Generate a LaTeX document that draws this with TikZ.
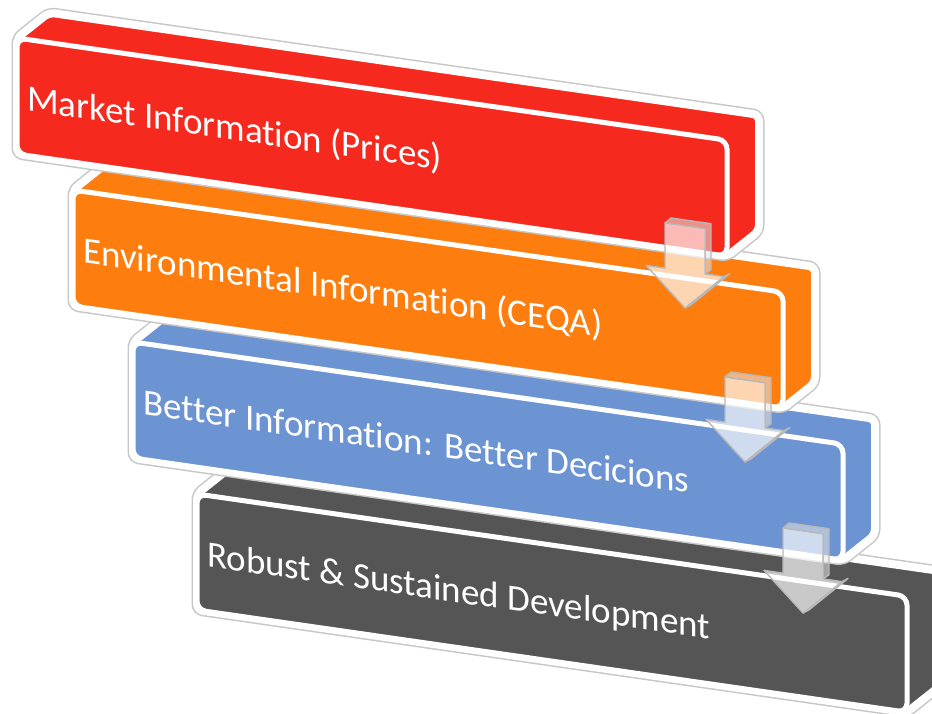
\documentclass[tikz,border=0pt]{standalone}
\usepackage{fontspec}
\setmainfont{Carlito}[Ligatures=NoCommon]
\usepackage{tikz}
\usetikzlibrary{calc}
\definecolor{slabred}{RGB}{246,41,31}
\definecolor{slaborange}{RGB}{253,125,15}
\definecolor{slabblue}{RGB}{108,148,210}
\definecolor{slabgray}{RGB}{85,85,85}
\tikzset{
	slabtext/.style={anchor=base west, text=white, inner sep=0pt, transform shape, font=\fontsize{37}{44}\selectfont},
	arrowline/.style={draw=black!28, line width=1.4pt, line join=round},
	arrowfill/.style={fill=white, fill opacity=0.68}
}
% slab: colour, front bottom left corner, node name, text
\def\slab[#1](#2,#3)(#4:#5){
	\begin{scope}[shift={(#2,#3)}, yslant=-0.144]
		\draw[line width=11pt, color=black!22, rounded corners=6pt] (0,0) -- (710,0) -- (742,30) -- (742,146) -- (32,146) -- (0,116) -- cycle;
		\draw[line width=8pt, color=white, fill=#1, rounded corners=6pt] (0,0) -- (710,0) -- (742,30) -- (742,146) -- (32,146) -- (0,116) -- cycle;
		\draw[line width=5pt, color=white, fill=#1, rounded corners=9pt] (0,0) rectangle (710,116);
		\node[slabtext] (#4) at (10,45) {#5};
	\end{scope}
}
% block arrow, tip at (#1,#2)
\def\blockarrow(#1,#2){
	\begin{scope}[shift={(#1,#2)}, yslant=-0.144]
		\draw[arrowline, fill=black!10, fill opacity=0.55] (-20,82) -- (-14,88) -- (26,88) -- (26,42) -- (20,37) -- (20,82) -- cycle;
		\draw[arrowline, fill=black!10, fill opacity=0.4] (0,0) -- (39,37) -- (45,41) -- (6,4) -- cycle;
		\draw[arrowline, arrowfill] (0,0) -- (-39,37) -- (-20,37) -- (-20,82) -- (20,82) -- (20,37) -- (39,37) -- cycle;
	\end{scope}
}

\begin{document}
\begin{tikzpicture}[x=1pt, y=1pt]
	%%%%% START %%%%%
	\useasboundingbox[fill=white] (0,0) rectangle (932,713);
	
	\slab[slabgray](197,103)(develop:{Robust \& Sustained Development})
	\slab[slabblue](133,255)(better:{Better Information: Better Decicions})
	\slab[slaborange](73,407)(environ:{Environmental Information (CEQA)})
	\slab[slabred](17,559)(market:{Market Information (Prices)})
	
	\blockarrow(685,405)
	\blockarrow(745,251)
	\blockarrow(803,100)
	
	%%%%% END %%%%%
\end{tikzpicture}
\end{document}
